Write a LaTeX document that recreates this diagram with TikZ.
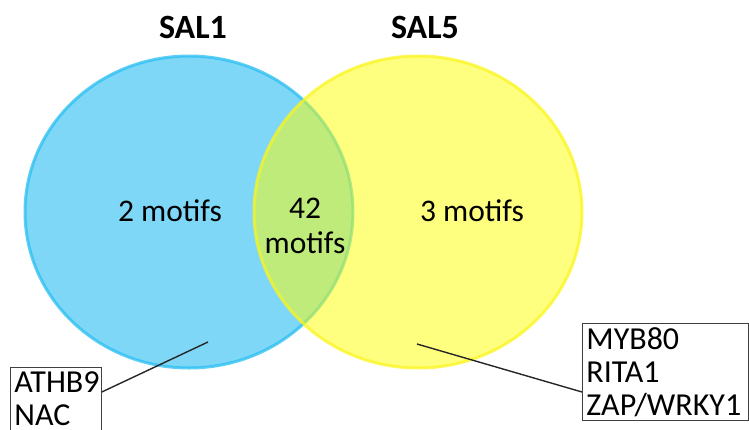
\documentclass[tikz,border=0pt]{standalone}
\usepackage{fontspec}
\setmainfont{Carlito}
\definecolor{salblue}{RGB}{0,176,240}
\definecolor{salblueedge}{RGB}{40,190,240}
\definecolor{salyellow}{RGB}{255,255,0}
\definecolor{salyellowedge}{RGB}{250,245,30}
\begin{document}
\begin{tikzpicture}[x=1pt,y=-1pt,
  setfill/.style={fill opacity=0.5, line width=3pt, draw opacity=0.75},
  title/.style={font=\fontsize{34}{38}\selectfont\bfseries},
  count/.style={font=\fontsize{31.5}{38}\selectfont, align=center},
  listbox/.style={draw=black!75, line width=0.8pt, fill=white, align=left,
    font=\fontsize{32}{33}\selectfont, inner xsep=4pt, inner ysep=4pt, anchor=north west},
  pointer/.style={draw=black!85, line width=1.4pt}]
\useasboundingbox (0,0) rectangle (749,429);
\clip (0,0) rectangle (749,429);

% the two sets
\path[setfill, fill=salblue, draw=salblueedge] (189,212) ellipse [x radius=164, y radius=156];
\path[setfill, fill=salyellow, draw=salyellowedge] (418,212) ellipse [x radius=164, y radius=156];

% set titles
\node[title] (t1) at (193,27) {SAL1};
\node[title] (t5) at (425,27) {SAL5};

% motif counts
\node[count] (c1) at (170,211) {2 motifs};
\node[count] (c12) at (305,226) {42\\[-3pt]motifs};
\node[count] (c5) at (472,211) {3 motifs};

% lists of motifs
\node[listbox, text width=83pt] (l1) at (10,367) {ATHB9\\NAC\\\phantom{X}};
\node[listbox, text width=158pt] (l5) at (582,323) {MYB80\\RITA1\\ZAP/WRKY1};

\coordinate (p1) at (208,342);
\coordinate (p5) at (417,344);
\draw[pointer] (p1) -- (l1.east |- 0,392);
\draw[pointer] (p5) -- (l5.west |- 0,392);
\end{tikzpicture}
\end{document}
